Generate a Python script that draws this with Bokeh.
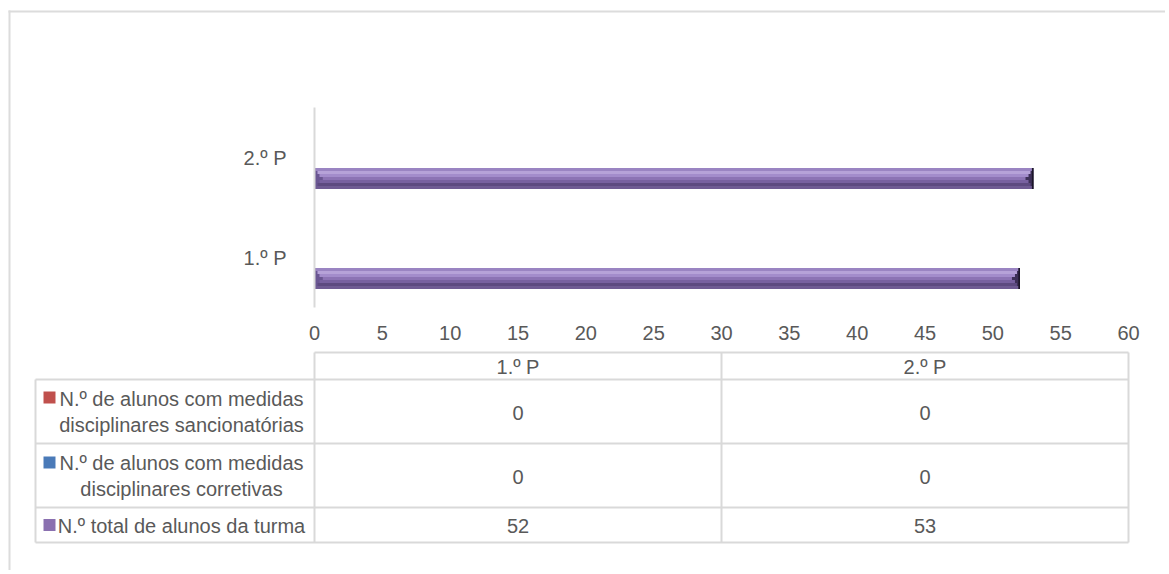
from bokeh.plotting import figure
from bokeh.models import Range1d, FixedTicker, ColumnDataSource
from bokeh.core.properties import value
from bokeh.embed import file_html
from bokeh.resources import INLINE

# ---------------- data ----------------
categories = ["1.º P", "2.º P"]
sancionatorias = [0, 0]
corretivas = [0, 0]
total_turma = [52, 53]
x_ticks = [0, 5, 10, 15, 20, 25, 30, 35, 40, 45, 50, 55, 60]
legend_lines = [
    ["N.º de alunos com medidas", "disciplinares sancionatórias"],
    ["N.º de alunos com medidas", "disciplinares corretivas"],
    ["N.º total de alunos da turma"],
]
series_values = [sancionatorias, corretivas, total_turma]

# ---------------- style ----------------
FONT = "Liberation Sans"
FS = "20px"
TXT = "#595959"
LINE = "#d9d9d9"
W, H = 1165, 570
FL, FR, FT, FB = 314, 1128, 107, 307   # plot frame in page pixels
PX_PER_UNIT = (FR - FL) / 60.0

cat_pos = [i + 0.5 for i in range(len(categories))]

p = figure(width=W, height=H, y_range=Range1d(0, len(categories)),
           x_range=Range1d(0, 60), output_backend="svg", toolbar_location=None,
           min_border_left=FL, min_border_right=W - FR, min_border_top=FT,
           min_border_bottom=H - FB)
p.outline_line_color = None
p.xgrid.visible = False
p.ygrid.visible = False
p.background_fill_color = "white"
p.border_fill_color = "white"
# page-pixel coordinate system for the data table / frame decorations
p.extra_x_ranges = {"px": Range1d(FL, FR)}
p.extra_y_ranges = {"px": Range1d(FB, FT)}
PX = dict(x_range_name="px", y_range_name="px", level="overlay")

p.xaxis.ticker = FixedTicker(ticks=x_ticks)
p.xaxis.axis_line_color = None
p.xaxis.major_tick_line_color = None
p.xaxis.minor_tick_line_color = None
p.xaxis.major_label_standoff = 12
p.yaxis.ticker = FixedTicker(ticks=cat_pos)
p.yaxis.major_label_overrides = {pos: c for pos, c in zip(cat_pos, categories)}
p.yaxis.axis_line_color = LINE
p.yaxis.axis_line_width = 2
p.yaxis.major_tick_line_color = None
p.yaxis.minor_tick_line_color = None
p.yaxis.major_label_standoff = 22
for ax in (p.xaxis[0], p.yaxis[0]):
    ax.major_label_text_font = FONT
    ax.major_label_text_font_size = FS
    ax.major_label_text_color = TXT

BAR_H = 0.21
offsets = [BAR_H, 0.0, -BAR_H]  # sancionatorias, corretivas, total
base_colors = ["#c0504d", "#4f81bd", "#8064a2"]

# zero-valued series (kept for fidelity)
for vals, off, col in zip(series_values[:2], offsets[:2], base_colors[:2]):
    src = ColumnDataSource(dict(y=[c + off for c in cat_pos], v=vals))
    p.hbar(y="y", left=0, right="v", height=BAR_H, source=src,
           fill_color=col, line_color=None)

# total series with a bevel look
off = offsets[2]
vals = total_turma
bev = 0.6
src = ColumnDataSource(dict(y=[c + off for c in cat_pos], v=vals,
                            l=[0] * len(vals), lb=[bev] * len(vals),
                            re=[v - 0.12 for v in vals]))
p.hbar(y="y", left="l", right="v", height=BAR_H, source=src,
       fill_color="#3e3058", line_color=None)
p.hbar(y="y", left="l", right="lb", height=BAR_H, source=src,
       fill_color="#6a5692", line_color=None)

stripe_colors = ["#9a84c2", "#b6a2d8", "#a38ccb", "#8c73b4", "#7861a0", "#5d4a80", "#6f5b93"]
stripe_inset_px = [1, 3, 5, 8, 5, 3, 1]
n = len(stripe_colors)
sh = BAR_H / n
for k, (c, ins) in enumerate(zip(stripe_colors, stripe_inset_px)):
    ins_u = ins / PX_PER_UNIT
    s = ColumnDataSource(dict(y=[cp + off + BAR_H / 2 - sh * (k + 0.5) for cp in cat_pos],
                              l=[ins_u] * len(vals),
                              r=[v - ins_u for v in vals]))
    p.hbar(y="y", left="l", right="r", height=sh * 1.02, source=s,
           fill_color=c, line_color=None)
p.hbar(y="y", left="re", right="v", height=BAR_H, source=src,
       fill_color="#1c1628", line_color=None)

# ---------------- outer chart border ----------------
p.segment(x0=[9, 8], y0=[10, 11], x1=[9, W], y1=[H, 11],
          line_color="#dcdcdc", line_width=2, **PX)

# ---------------- data table ----------------
x_left, x_axis0, x_mid, x_right = 35, FL, 721, FR
y_head, y_r1, y_r2, y_r3, y_end = 352, 379, 443, 507, 542
hx0 = [x_axis0, x_left, x_left, x_left, x_left]
hy = [y_head, y_r1, y_r2, y_r3, y_end]
p.segment(x0=hx0, y0=hy, x1=[x_right] * 5, y1=hy, line_color=LINE, line_width=2, **PX)
vx = [x_left, x_axis0, x_mid, x_right]
vy0 = [y_r1, y_head, y_head, y_head]
p.segment(x0=vx, y0=vy0, x1=vx, y1=[y_end] * 4, line_color=LINE, line_width=2, **PX)

col_centers = [(x_axis0 + x_mid) / 2, (x_mid + x_right) / 2]
txt_kw = dict(text_font=value(FONT), text_font_size=FS, text_color=TXT,
              text_align="center", text_baseline="middle", **PX)
p.text(x=col_centers, y=[(y_head + y_r1) / 2 + 1] * 2, text=categories, **txt_kw)
row_centers = [(y_r1 + y_r2) / 2, (y_r2 + y_r3) / 2, (y_r3 + y_end) / 2]
for vals_, yc in zip(series_values, row_centers):
    p.text(x=col_centers, y=[yc + 1] * len(vals_), text=[str(v) for v in vals_], **txt_kw)

lg_x = 181
line_ys = [[398, 424], [462, 488], [525]]
for lines, ys in zip(legend_lines, line_ys):
    p.text(x=[lg_x] * len(lines), y=ys, text=lines, **txt_kw)

# legend markers
mx0, mx1 = 43, 55
p.quad(left=mx0, right=mx1, top=391, bottom=403, fill_color="#c0504d", line_color=None, **PX)
for yc, light, dark in [(462, "#4a7ab8", "#1f3a62"), (524.5, "#8a70b0", "#3a2d52")]:
    y0, y1 = yc - 6, yc + 6
    xm = (mx0 + mx1) / 2
    p.quad(left=mx0, right=mx1, top=y0, bottom=y1, fill_color=light, line_color=None, **PX)
    p.patches(xs=[[mx0, xm, mx0], [mx1, xm, mx1]], ys=[[y0, yc, y1], [y0, yc, y1]],
              fill_color=dark, line_color=None, **PX)

open("out.html", "w").write(file_html(p, INLINE))
